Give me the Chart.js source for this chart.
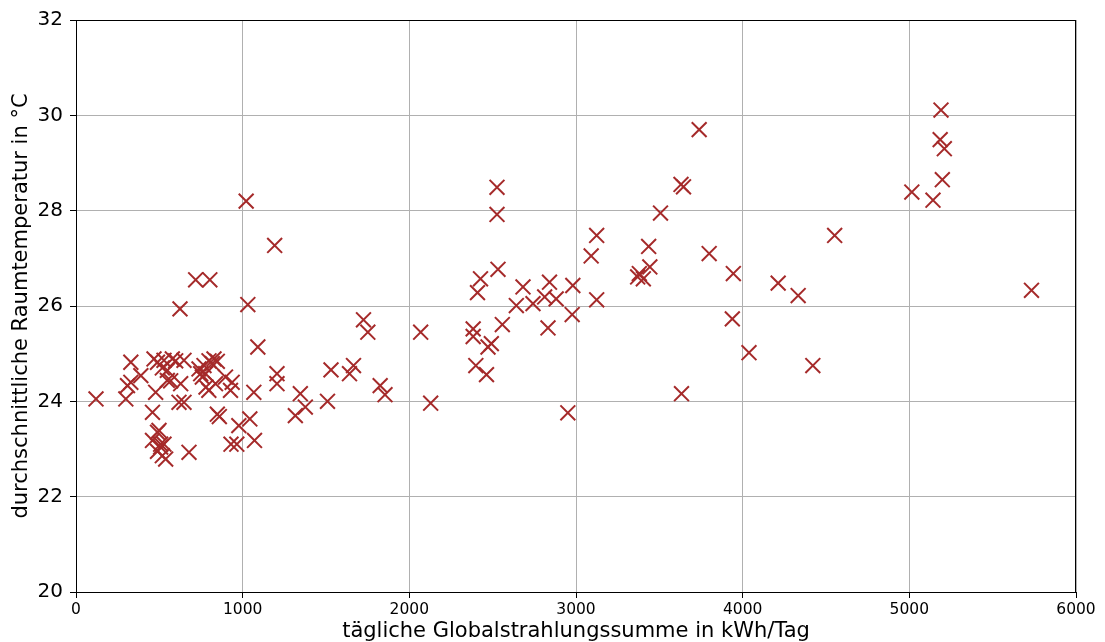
<!DOCTYPE html>
<html>
<head>
<meta charset="utf-8">
<script src="https://cdn.jsdelivr.net/npm/chart.js@4"></script>
<style>
html,body{margin:0;padding:0;background:#fff;}
#wrap{width:1105px;height:642px;position:relative;}
</style>
</head>
<body>
<div id="wrap"><canvas id="c" width="1105" height="642"></canvas></div>
<script>
// Daily global radiation sum (kWh/Tag)
const radiation = [
  120, 299, 309, 329, 329, 389, 459, 468, 478, 498, 459, 508, 518, 538, 489, 489, 508, 528,
  489, 518, 528, 548, 548, 578, 568, 598, 628, 648, 618, 648, 624, 678, 718, 803, 738, 748,
  758, 768, 778, 780, 797, 798, 818, 828, 837, 848, 848, 860, 897, 927, 937, 930, 965, 977,
  1021, 1031, 1043, 1067, 1071, 1091, 1192, 1206, 1206,
  1316, 1346, 1376, 1509, 1530, 1641, 1665, 1725, 1751, 1825, 1854, 2068, 2128,
  2383, 2383, 2399, 2409, 2427, 2463, 2472, 2492, 2526, 2526, 2532, 2558, 2642, 2682, 2742,
  2812, 2832, 2841, 2881, 2951, 2977, 2981, 3091, 3124, 3124, 3370, 3380, 3404, 3436, 3443,
  3507, 3630, 3645, 3633, 3739, 3799, 3944, 3938, 4038, 4213, 4333, 4421, 4552,
  5015, 5142, 5190, 5185, 5210, 5198, 5733
];
// Mean room temperature (°C)
const temperature = [
  24.05, 24.05, 24.33, 24.40, 24.82, 24.54, 23.77, 24.89, 24.19, 23.39, 23.18, 23.04, 22.86, 22.79, 22.95, 23.35, 23.10, 23.10,
  24.82, 24.70, 24.86, 24.65, 24.44, 24.89, 24.43, 24.85, 24.37, 24.86, 23.98, 23.98, 25.94, 22.93, 26.55, 26.55, 24.68, 24.58,
  24.51, 24.75, 24.58, 24.30, 24.23, 24.85, 24.79, 24.89, 24.37, 24.84, 23.73, 23.68, 24.51, 24.23, 24.40, 23.10, 23.10, 23.49,
  28.20, 26.03, 23.63, 24.19, 23.18, 25.14, 27.27, 24.58, 24.37,
  23.70, 24.16, 23.88, 24.00, 24.66, 24.58, 24.75, 25.71, 25.45, 24.33, 24.14, 25.45, 23.96,
  25.52, 25.36, 24.75, 26.28, 26.57, 24.56, 25.14, 25.21, 28.49, 27.92, 26.77, 25.61, 26.01, 26.40, 26.05,
  26.19, 25.54, 26.50, 26.15, 23.76, 25.82, 26.43, 27.05, 27.48, 26.13, 26.61, 26.68, 26.57, 27.25, 26.82,
  27.95, 28.55, 28.50, 24.16, 29.70, 27.10, 26.68, 25.73, 25.02, 26.48, 26.22, 24.75, 27.48,
  28.39, 28.22, 30.11, 29.49, 29.30, 28.65, 26.33
];
const xTicks = [0, 1000, 2000, 3000, 4000, 5000, 6000];
const yTicks = [20, 22, 24, 26, 28, 30, 32];
const xTitle = 'tägliche Globalstrahlungssumme in kWh/Tag';
const yTitle = 'durchschnittliche Raumtemperatur in °C';

const points = radiation.map((x, i) => ({x: x, y: temperature[i]}));
const FONT = 'DejaVu Sans';

const frame = {
  id: 'frame',
  afterDatasetsDraw(chart) {
    const {ctx, chartArea: a} = chart;
    ctx.save();
    ctx.strokeStyle = '#000';
    ctx.lineWidth = 1;
    ctx.strokeRect(Math.round(a.left) + 0.5, Math.round(a.top) + 0.5,
                   Math.round(a.right - a.left) - 1, Math.round(a.bottom - a.top));
    ctx.restore();
  }
};

new Chart(document.getElementById('c'), {
  type: 'scatter',
  data: {
    datasets: [{
      data: points,
      pointStyle: 'crossRot',
      pointRadius: 10.5,
      pointHoverRadius: 10.5,
      pointBorderWidth: 2,
      borderColor: '#a52a2a',
      backgroundColor: '#a52a2a'
    }]
  },
  options: {
    responsive: false,
    animation: false,
    events: [],
    layout: {padding: {left: 0, right: 29, top: 20, bottom: 0}},
    plugins: {legend: {display: false}, tooltip: {enabled: false}},
    scales: {
      x: {
        type: 'linear', min: 0, max: 6000,
        afterBuildTicks: s => { s.ticks = xTicks.map(v => ({value: v})); },
        afterFit: s => { s.height = 50; },
        ticks: {font: {family: FONT, size: 15.5}, color: '#000', padding: 3, maxRotation: 0, autoSkip: false,
                callback: v => String(v)},
        grid: {color: '#b0b0b0', lineWidth: 1, tickLength: 6, tickColor: '#000', tickWidth: 1},
        border: {display: true, color: '#000', width: 1},
        title: {display: true, text: xTitle, font: {family: FONT, size: 21, lineHeight: 1}, color: '#000', padding: {top: 0, bottom: 0}}
      },
      y: {
        type: 'linear', min: 20, max: 32,
        afterBuildTicks: s => { s.ticks = yTicks.map(v => ({value: v})); },
        afterFit: s => { s.width = 76; },
        ticks: {font: {family: FONT, size: 20}, color: '#000', padding: 7, autoSkip: false,
                callback: v => String(v)},
        grid: {color: '#b0b0b0', lineWidth: 1, tickLength: 6, tickColor: '#000', tickWidth: 1},
        border: {display: true, color: '#000', width: 1},
        title: {display: true, text: yTitle, font: {family: FONT, size: 21, lineHeight: 1}, color: '#000', padding: {top: 11, bottom: 0}}
      }
    }
  },
  plugins: [frame]
});
</script>
</body>
</html>
